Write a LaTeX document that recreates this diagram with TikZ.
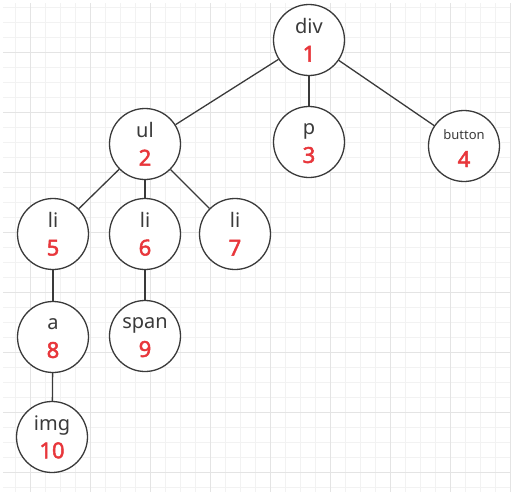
\documentclass[tikz,border=0pt]{standalone}
\usepackage{fontspec}
\setmainfont{Noto Sans}
\newfontfamily\numfont[FakeBold=2.2]{Noto Sans}
\definecolor{gridminor}{HTML}{F2F2F2}
\definecolor{gridmajor}{HTML}{E4E4E4}
\definecolor{inkgray}{HTML}{3A3A3A}
\definecolor{numred}{HTML}{E8363B}
\newcommand{\tn}[2]{\rule{0pt}{14pt}#1\\{\numfont\fontsize{22}{28}\selectfont\color{numred}#2}}
\begin{document}
\begin{tikzpicture}[x=1pt,y=-1pt,
  treenode/.style={circle,draw=inkgray,line width=1.3pt,fill=white,minimum size=71pt,inner sep=0pt,
    align=center,text=inkgray,font=\fontsize{20}{28}\selectfont},
  smalltreenode/.style={treenode,font=\fontsize{13}{28}\selectfont},
  edge/.style={draw=inkgray,line width=1.3pt}]
\useasboundingbox (0,0) rectangle (515,498);
% grid
\foreach \k in {1,...,34} {
  \pgfmathtruncatemacro{\xx}{15*\k}
  \draw[gridminor,line width=0.8pt] (\xx,3) -- (\xx,492);
}
\foreach \k in {0,...,32} {
  \pgfmathtruncatemacro{\yy}{7+15*\k}
  \draw[gridminor,line width=0.8pt] (3,\yy) -- (510,\yy);
}
\foreach \xx in {30,90,...,510} \draw[gridmajor,line width=0.8pt] (\xx,3) -- (\xx,492);
\foreach \yy in {52,112,...,492} \draw[gridmajor,line width=0.8pt] (3,\yy) -- (510,\yy);
% nodes
\node[treenode] (n1) at (309,40) {\tn{div}{1}};
\node[treenode] (n2) at (145,144) {\tn{ul}{2}};
\node[treenode] (n3) at (309,142) {\tn{p}{3}};
\node[smalltreenode] (n4) at (464,146) {\tn{button}{4}};
\node[treenode] (n5) at (53,234) {\tn{li}{5}};
\node[treenode] (n6) at (145,234) {\tn{li}{6}};
\node[treenode] (n7) at (235,234) {\tn{li}{7}};
\node[treenode] (n8) at (53,337) {\tn{a}{8}};
\node[treenode] (n9) at (145,336) {\tn{span}{9}};
\node[treenode] (n10) at (52,437) {\tn{img}{10}};
% edges
\draw[edge] (n1) -- (n2);
\draw[edge] (n1) -- (n3);
\draw[edge] (n1) -- (n4);
\draw[edge] (n2) -- (n5);
\draw[edge] (n2) -- (n6);
\draw[edge] (n2) -- (n7);
\draw[edge] (n5) -- (n8);
\draw[edge] (n6) -- (n9);
\draw[edge] (n8) -- (n10);
\end{tikzpicture}
\end{document}
